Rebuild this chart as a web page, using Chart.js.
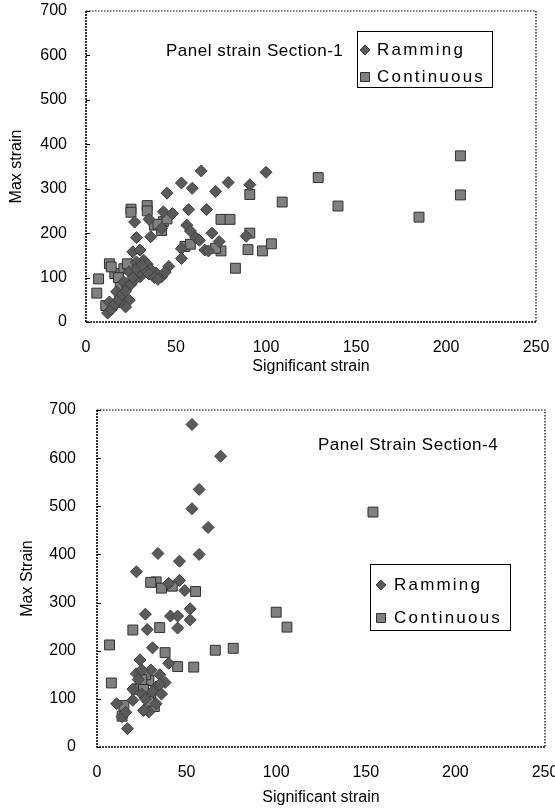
<!DOCTYPE html>
<html>
<head>
<meta charset="utf-8">
<script src="https://cdn.jsdelivr.net/npm/chart.js@4.4.0/dist/chart.umd.min.js"></script>
<style>
  html, body { margin: 0; padding: 0; background: #fff; }
  .panel { position: absolute; left: 0; width: 555px; }
</style>
</head>
<body>
<div class="panel" style="top:0;height:390px"><canvas id="chart1" width="555" height="390"></canvas></div>
<div class="panel" style="top:390px;height:418px"><canvas id="chart2" width="555" height="418"></canvas></div>
<script>
const seriesNames = ['Ramming', 'Continuous'];
const xTicks = [0, 50, 100, 150, 200, 250];
const yTicks = [0, 100, 200, 300, 400, 500, 600, 700];

// [significant strain, max strain]
const sec1Ramming = [
    [64, 340], [100, 337], [45, 290], [53, 313], [59, 301], [72, 294], [79, 314], [91, 309],
    [57, 253], [67, 253], [27, 225], [35, 231], [43, 248], [48, 244], [56, 218], [42, 211],
    [28, 190], [36, 192], [58, 205], [61, 190], [53, 165], [53, 143], [66, 162], [68, 160],
    [70, 200], [74, 181], [89, 193], [63, 184], [46, 125], [39, 110], [42, 102], [30, 102],
    [26, 158], [32, 139], [34, 130], [30, 162], [24, 113], [21, 90], [23, 79], [19, 57],
    [17, 68], [24, 49], [22, 34], [15, 34], [12, 20], [13, 45], [19, 45], [28, 135], [36, 118],
    [14, 28], [16, 40], [18, 50], [20, 62], [22, 70], [25, 85], [27, 95], [30, 112], [33, 116],
    [35, 108], [38, 100], [40, 96], [44, 112], [26, 100], [28, 120], [31, 128]
];
const sec1Continuous = [
    [208, 374], [208, 286], [129, 325], [140, 261], [185, 236], [109, 270], [91, 287], [91, 200],
    [90, 163], [98, 160], [103, 176], [83, 121], [75, 160], [75, 231], [80, 231], [72, 166],
    [55, 170], [58, 175], [43, 226], [38, 218], [42, 206], [34, 262], [34, 250], [25, 254],
    [25, 247], [13, 131], [7, 97], [6, 65], [16, 109], [21, 120], [24, 122], [19, 82],
    [11, 37], [14, 124], [40, 220], [45, 232], [23, 131], [18, 100]
];
const sec4Ramming = [
    [53, 670], [69, 604], [57, 535], [53, 495], [62, 456], [57, 400], [34, 402], [46, 386],
    [22, 364], [46, 346], [49, 325], [40, 340], [27, 276], [28, 244], [41, 272], [45, 272],
    [45, 247], [52, 287], [52, 264], [31, 206], [40, 174], [24, 181], [38, 134], [17, 38],
    [14, 63], [11, 90], [22, 152], [29, 73], [33, 90], [33, 125], [20, 97], [26, 76],
    [16, 72], [25, 110], [30, 160], [35, 150], [20, 120], [23, 140], [27, 100], [31, 115],
    [35, 130], [25, 160], [36, 110]
];
const sec4Continuous = [
    [154, 488], [100, 280], [106, 249], [76, 205], [66, 201], [54, 166], [45, 167], [38, 196],
    [35, 248], [20, 243], [7, 212], [8, 133], [33, 343], [42, 334], [55, 323], [29, 138],
    [30, 111], [28, 103], [15, 86], [14, 64], [32, 84], [24, 130], [27, 150], [22, 120],
    [36, 330], [30, 342], [26, 120], [29, 95], [25, 140]
];

const FONT = '"Liberation Sans", Arial, sans-serif';
Chart.defaults.font.family = FONT;
Chart.defaults.color = '#000';

function drawMarker(ctx, style, x, y, r, fill, stroke) {
    ctx.beginPath();
    if (style === 'rectRot') {
        ctx.moveTo(x - r, y);
        ctx.lineTo(x, y - r);
        ctx.lineTo(x + r, y);
        ctx.lineTo(x, y + r);
        ctx.closePath();
    } else {
        ctx.rect(x - r, y - r, 2 * r, 2 * r);
    }
    ctx.fillStyle = fill;
    ctx.fill();
    ctx.strokeStyle = stroke;
    ctx.lineWidth = 1;
    ctx.stroke();
}

// frame, inward ticks, axis titles, note and boxed legend
const panelDecor = {
    id: 'panelDecor',
    beforeDatasetsDraw(chart, args, o) {
        const { ctx, chartArea: a } = chart;
        ctx.save();
        ctx.strokeStyle = '#000';
        ctx.lineWidth = 1.6;
        ctx.setLineDash([2, 1]);
        ctx.beginPath();
        ctx.moveTo(a.left, a.top);
        ctx.lineTo(a.left, a.bottom);
        ctx.lineTo(a.right, a.bottom);
        ctx.stroke();
        ctx.lineWidth = 1.2;
        ctx.setLineDash([1.5, 1.5]);
        ctx.beginPath();
        ctx.moveTo(a.left, a.top);
        ctx.lineTo(a.right, a.top);
        ctx.lineTo(a.right, a.bottom);
        ctx.stroke();
        ctx.setLineDash([]);
        ctx.lineWidth = 1;
        const ys = chart.scales.y;
        yTicks.forEach(v => {
            const py = Math.round(ys.getPixelForValue(v)) + 0.5;
            ctx.beginPath();
            ctx.moveTo(a.left, py);
            ctx.lineTo(a.left + 4, py);
            ctx.stroke();
        });
        ctx.restore();
    },
    afterDraw(chart, args, o) {
        const { ctx, chartArea: a } = chart;
        ctx.save();
        ctx.fillStyle = '#000';
        ctx.font = '16px ' + FONT;
        ctx.textBaseline = 'middle';
        ctx.textAlign = 'center';
        ctx.fillText(o.xTitle, (a.left + a.right) / 2, o.xTitleY);
        ctx.save();
        ctx.translate(o.yTitleX, (a.top + a.bottom) / 2);
        ctx.rotate(-Math.PI / 2);
        ctx.fillText(o.yTitle, 0, 0);
        ctx.restore();
        ctx.textAlign = 'left';
        ctx.font = '17px ' + FONT;
        ctx.letterSpacing = '0.5px';
        ctx.fillText(o.note, o.noteX, o.noteY);

        const b = o.legend;
        ctx.strokeStyle = '#000';
        ctx.lineWidth = 1;
        ctx.strokeRect(b.x + 0.5, b.y + 0.5, b.w, b.h);
        ctx.letterSpacing = '2.2px';
        chart.data.datasets.forEach((ds, i) => {
            const ry = b.rowY[i];
            const r = ds.pointStyle === 'rectRot' ? 5 : 4.5;
            drawMarker(ctx, ds.pointStyle, b.markerX, ry, r, ds.backgroundColor, ds.borderColor);
            ctx.fillStyle = '#000';
            ctx.fillText(ds.label, b.textX, ry);
        });
        ctx.restore();
    }
};

function toPoints(list) {
    return list.map(p => ({ x: p[0], y: p[1] }));
}

function makeChart(id, ramming, continuous, deco, layout) {
    new Chart(document.getElementById(id), {
        type: 'scatter',
        data: {
            datasets: [{
                label: seriesNames[0],
                data: toPoints(ramming),
                pointStyle: 'rectRot',
                pointRadius: layout.diamond,
                backgroundColor: '#5a5a5a',
                borderColor: '#404040',
                borderWidth: 1
            }, {
                label: seriesNames[1],
                data: toPoints(continuous),
                pointStyle: 'rect',
                pointRadius: layout.square,
                backgroundColor: '#808080',
                borderColor: '#303030',
                borderWidth: 1
            }]
        },
        options: {
            responsive: false,
            animation: false,
            layout: { padding: { left: 0, right: layout.right, top: layout.top, bottom: 0 } },
            scales: {
                x: {
                    type: 'linear',
                    min: 0, max: 250,
                    grid: { display: false },
                    border: { display: false },
                    afterBuildTicks: s => { s.ticks = xTicks.map(v => ({ value: v })); },
                    afterFit: s => {
                        s.height = layout.xHeight;
                        s.paddingLeft = 0;
                        s.paddingRight = 0;
                    },
                    ticks: { font: { size: 16 }, padding: 8, maxRotation: 0, autoSkip: false }
                },
                y: {
                    type: 'linear',
                    min: 0, max: 700,
                    grid: { display: false },
                    border: { display: false },
                    afterBuildTicks: s => { s.ticks = yTicks.map(v => ({ value: v })); },
                    afterFit: s => {
                        s.width = layout.yWidth;
                        s.paddingTop = 0;
                        s.paddingBottom = 0;
                    },
                    ticks: { font: { size: 16 }, padding: layout.yPad }
                }
            },
            plugins: {
                legend: { display: false },
                tooltip: { enabled: false },
                panelDecor: deco
            }
        },
        plugins: [panelDecor]
    });
}

makeChart('chart1', sec1Ramming, sec1Continuous, {
    xTitle: 'Significant strain', xTitleY: 367,
    yTitle: 'Max strain', yTitleX: 17,
    note: 'Panel strain Section-1', noteX: 166, noteY: 51,
    legend: { x: 357, y: 31, w: 135, h: 56, rowY: [50, 77], markerX: 365, textX: 377 }
}, { right: 19, top: 11, xHeight: 68, yWidth: 86, yPad: 11, diamond: 6, square: 7 });

makeChart('chart2', sec4Ramming, sec4Continuous, {
    xTitle: 'Significant strain', xTitleY: 408,
    yTitle: 'Max Strain', yTitleX: 28,
    note: 'Panel Strain Section-4', noteX: 318, noteY: 55,
    legend: { x: 370, y: 174, w: 140, h: 66, rowY: [195, 228], markerX: 381, textX: 394 }
}, { right: 10, top: 20, xHeight: 61, yWidth: 97, yPad: 13, diamond: 6, square: 7 });
</script>
</body>
</html>
